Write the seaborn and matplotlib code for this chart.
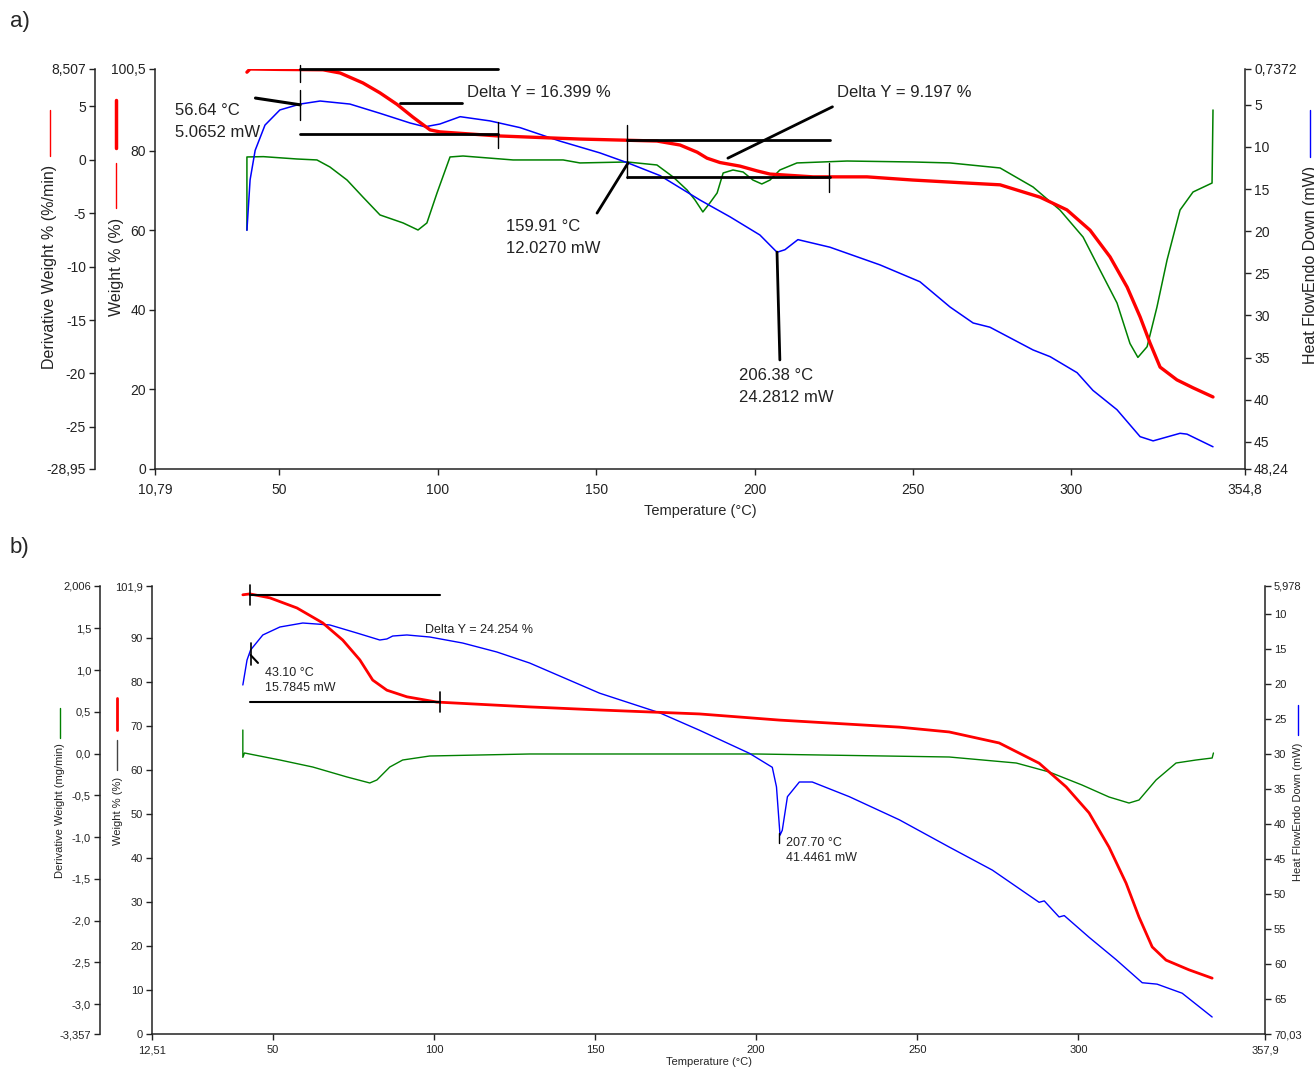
import matplotlib
matplotlib.use("Agg")
import matplotlib.pyplot as plt
import seaborn as sns
from matplotlib.lines import Line2D

sns.set_style("ticks")
plt.rcParams['font.family'] = ['Liberation Sans', 'DejaVu Sans']

FIG_W, FIG_H = 1314, 1068

# ---------------- panel a) data ----------------
a_weight_t = [39.8, 40.8, 50.0, 63.8, 69.2, 76.4, 81.8, 87.2, 92.2, 97.6, 100.7, 106.1, 118.7,
              144.9, 159.8, 169.2, 176.5, 181.9, 185.0, 189.1, 195.4, 200.8, 204.9, 218.5,
              235.5, 250.0, 265.8, 277.5, 290.1, 298.6, 305.9, 312.2, 317.6, 321.7, 324.8,
              328.0, 333.3, 338.4, 344.7]
a_weight = [99.7, 100.5, 100.4, 100.3, 99.5, 97.0, 94.5, 91.6, 88.4, 85.2, 84.7, 84.4, 83.7,
            82.9, 82.6, 82.4, 81.4, 79.6, 78.1, 77.0, 76.1, 74.9, 74.1, 73.4,
            73.4, 72.6, 71.9, 71.4, 68.3, 65.1, 60.0, 53.3, 45.7, 38.2, 31.7,
            25.6, 22.4, 20.4, 18.1]

a_deriv_t = [39.8, 39.8, 45.0, 55.6, 61.9, 66.0, 71.4, 76.4, 81.8, 89.1, 93.8, 96.6, 99.8,
             103.9, 108.0, 123.8, 139.6, 144.9, 159.8, 169.2, 174.3, 178.7, 181.2, 183.7,
             185.9, 188.2, 190.1, 193.2, 196.4, 199.5, 202.3, 204.9, 208.0, 213.4, 229.2,
             250.0, 261.7, 277.5, 287.9, 296.4, 303.7, 309.0, 314.4, 318.5, 321.0, 323.9,
             327.0, 330.2, 334.3, 338.4, 344.4, 344.7]
a_deriv = [-6.57, 0.27, 0.30, 0.08, -0.01, -0.67, -1.89, -3.48, -5.16, -5.91, -6.57, -5.91, -3.10,
           0.27, 0.36, -0.01, -0.01, -0.29, -0.20, -0.48, -1.60, -2.82, -3.75, -4.88,
           -4.04, -3.10, -1.23, -0.95, -1.14, -1.89, -2.26, -1.89, -0.95, -0.29, -0.11,
           -0.20, -0.29, -0.76, -2.54, -4.70, -7.23, -10.3, -13.4, -17.2, -18.5, -17.5,
           -13.8, -9.38, -4.70, -3.01, -2.17, 4.67]

a_heat_t = [39.8, 40.8, 42.4, 45.5, 50.2, 56.6, 62.9, 72.3, 81.8, 91.3, 96.0, 100.7, 107.1,
            116.5, 126.0, 138.6, 151.2, 160.1, 170.2, 182.8, 192.3, 201.7, 207.1, 209.6,
            213.7, 223.8, 239.6, 252.2, 261.7, 269.0, 274.3, 287.9, 293.3, 301.8, 306.8,
            314.4, 321.7, 325.8, 334.3, 336.5, 344.7]
a_heat = [19.9, 13.9, 10.4, 7.4, 5.6, 4.9, 4.54, 4.9, 6.0, 7.15, 7.6, 7.27, 6.4,
          6.9, 7.7, 9.3, 10.7, 11.9, 13.4, 16.3, 18.3, 20.45, 22.5, 22.2,
          21.0, 21.9, 24.0, 26.0, 29.0, 30.9, 31.4, 34.1, 34.9, 36.8, 38.9,
          41.2, 44.4, 44.9, 44.0, 44.1, 45.6]

a_x_ticks = [10.79, 50, 100, 150, 200, 250, 300, 354.8]
a_x_labels = ['10,79', '50', '100', '150', '200', '250', '300', '354,8']
a_w_ticks = [0, 20, 40, 60, 80, 100.5]
a_w_labels = ['0', '20', '40', '60', '80', '100,5']
a_d_ticks = [-28.95, -25, -20, -15, -10, -5, 0, 5, 8.507]
a_d_labels = ['-28,95', '-25', '-20', '-15', '-10', '-5', '0', '5', '8,507']
a_h_ticks = [0.7372, 5, 10, 15, 20, 25, 30, 35, 40, 45, 48.24]
a_h_labels = ['0,7372', '5', '10', '15', '20', '25', '30', '35', '40', '45', '48,24']

# annotation segments (temperature, weight %), linewidth
a_segments = [
    ((42.5, 93.2), (56.6, 91.5), 2.2),
    ((56.6, 100.5), (118.9, 100.5), 2.0),
    ((88.2, 92.0), (107.8, 92.0), 2.0),
    ((56.6, 84.2), (118.9, 84.2), 2.0),
    ((56.6, 101.5), (56.6, 97.2), 1.0),
    ((56.6, 95.2), (56.6, 87.7), 1.0),
    ((118.9, 87.2), (118.9, 80.7), 1.0),
    ((159.9, 82.7), (223.9, 82.7), 2.0),
    ((159.9, 73.4), (223.9, 73.4), 2.0),
    ((159.9, 86.4), (159.9, 73.1), 1.0),
    ((223.6, 76.9), (223.6, 69.6), 1.0),
    ((191.6, 78.1), (224.6, 91.0), 2.0),
    ((150.3, 64.3), (160.1, 76.9), 2.0),
    ((207.1, 54.5), (208.0, 27.4), 2.0),
]
a_texts = [
    (17.1, 87.3, '56.64 °C\n5.0652 mW'),
    (109.4, 94.7, 'Delta Y = 16.399 %'),
    (225.9, 94.7, 'Delta Y = 9.197 %'),
    (121.7, 58.2, '159.91 °C\n12.0270 mW'),
    (195.0, 20.7, '206.38 °C\n24.2812 mW'),
]

# ---------------- panel b) data ----------------
b_weight_t = [40.7, 42.9, 49.1, 57.5, 65.5, 71.7, 77.0, 81.0, 85.4, 91.6, 100.9, 129.7, 151.4,
              182.4, 207.2, 244.4, 259.9, 275.4, 287.8, 296.2, 303.3, 309.5, 314.8, 318.8,
              322.9, 327.2, 334.3, 341.5]
b_weight = [99.9, 100.1, 99.2, 96.9, 93.5, 89.6, 85.1, 80.5, 78.2, 76.7, 75.5, 74.4, 73.7,
            72.8, 71.4, 69.8, 68.7, 66.2, 61.6, 56.2, 50.3, 42.5, 34.3, 26.6,
            19.8, 16.8, 14.6, 12.7]

b_deriv_t = [40.7, 40.7, 41.2, 52.2, 62.4, 73.0, 80.1, 82.3, 86.3, 90.3, 98.7, 129.7, 200.0,
             259.9, 280.7, 290.9, 301.1, 309.5, 315.7, 318.8, 324.1, 330.3, 336.5, 341.5, 341.9]
b_deriv = [0.282, -0.045, 0.007, -0.077, -0.161, -0.280, -0.352, -0.316, -0.161, -0.077, -0.029,
           -0.005, -0.005, -0.041, -0.113, -0.220, -0.376, -0.520, -0.592, -0.556, -0.316,
           -0.113, -0.077, -0.053, 0.007]

b_heat_t = [40.7, 42.0, 43.1, 46.9, 52.2, 59.3, 67.7, 76.1, 83.2, 85.4, 87.2, 91.6, 98.7,
            108.9, 119.5, 129.7, 151.4, 170.0, 182.4, 197.9, 205.0, 206.3, 207.4, 208.1,
            209.7, 213.4, 217.4, 228.9, 244.4, 259.9, 273.3, 287.8, 289.4, 294.0, 295.6,
            303.3, 311.7, 319.8, 324.4, 332.2, 341.5]
b_heat = [20.13, 16.56, 15.13, 12.98, 11.84, 11.27, 11.55, 12.70, 13.70, 13.55, 13.13, 12.98, 13.27,
          14.13, 15.41, 16.99, 21.3, 24.1, 26.6, 29.9, 31.9, 34.7, 41.6, 40.9,
          36.1, 34.0, 34.0, 36.1, 39.4, 43.3, 46.6, 51.2, 51.0, 53.3, 53.1,
          56.2, 59.4, 62.7, 62.9, 64.2, 67.6]

b_x_ticks = [12.51, 50, 100, 150, 200, 250, 300, 357.9]
b_x_labels = ['12,51', '50', '100', '150', '200', '250', '300', '357,9']
b_w_ticks = [0, 10, 20, 30, 40, 50, 60, 70, 80, 90, 101.9]
b_w_labels = ['0', '10', '20', '30', '40', '50', '60', '70', '80', '90', '101,9']
b_d_ticks = [-3.357, -3.0, -2.5, -2.0, -1.5, -1.0, -0.5, 0.0, 0.5, 1.0, 1.5, 2.006]
b_d_labels = ['-3,357', '-3,0', '-2,5', '-2,0', '-1,5', '-1,0', '-0,5', '0,0', '0,5', '1,0', '1,5', '2,006']
b_h_ticks = [5.978, 10, 15, 20, 25, 30, 35, 40, 45, 50, 55, 60, 65, 70.03]
b_h_labels = ['5,978', '10', '15', '20', '25', '30', '35', '40', '45', '50', '55', '60', '65', '70,03']

b_segments = [
    ((42.9, 99.9), (101.8, 99.9), 1.5),
    ((42.9, 102.1), (42.9, 97.6), 1.2),
    ((42.9, 75.5), (101.8, 75.5), 1.5),
    ((101.8, 77.8), (101.8, 73.2), 1.2),
    ((43.1, 88.9), (43.1, 83.9), 1.2),
    ((43.1, 86.2), (45.4, 84.4), 1.5),
    ((207.2, 45.7), (207.2, 43.4), 1.0),
]
b_texts = [
    (97.1, 91.9, 'Delta Y = 24.254 %'),
    (47.5, 80.4, '43.10 °C\n15.7845 mW'),
    (209.1, 41.75, '207.70 °C\n41.4461 mW'),
]

RED, BLUE, GREEN = '#ff0000', '#0000ff', '#008000'

fig = plt.figure(figsize=(FIG_W / 100, FIG_H / 100), dpi=100)


def fig_line(x, y0, y1, color, lw):
    fig.add_artist(Line2D([x / FIG_W, x / FIG_W], [1 - y0 / FIG_H, 1 - y1 / FIG_H],
                          transform=fig.transFigure, color=color, lw=lw))


def panel(box, xlim, x_ticks, x_labels, wlim, w_ticks, w_labels, dlim, d_ticks, d_labels,
          hlim, h_ticks, h_labels, d_offset_px, fs, xpad):
    left, top, right, bottom = box
    ax_w = fig.add_axes([left / FIG_W, 1 - bottom / FIG_H, (right - left) / FIG_W, (bottom - top) / FIG_H])
    ax_d = ax_w.twinx()
    ax_h = ax_w.twinx()
    ax_w.set_zorder(3)
    ax_w.patch.set_visible(False)

    ax_w.set_xlim(*xlim)
    ax_w.set_ylim(*wlim)
    ax_d.set_ylim(*dlim)
    ax_h.set_ylim(*hlim)

    for name in ['top', 'right']:
        ax_w.spines[name].set_visible(False)
    for name in ['top', 'right', 'bottom']:
        ax_d.spines[name].set_visible(False)
    for name in ['top', 'left', 'bottom']:
        ax_h.spines[name].set_visible(False)

    ax_d.yaxis.set_ticks_position('left')
    ax_d.spines['left'].set_visible(True)
    ax_d.spines['left'].set_position(('outward', d_offset_px * 0.72))

    for a in (ax_w, ax_d, ax_h):
        for s in a.spines.values():
            s.set_linewidth(1.1)
            s.set_color('#222222')
        a.tick_params(direction='out', length=4, width=1, colors='#222222', labelsize=fs, pad=2.5)

    ax_w.set_xticks(x_ticks)
    ax_w.set_xticklabels(x_labels)
    ax_w.tick_params(axis='x', pad=xpad)
    ax_w.set_yticks(w_ticks)
    ax_w.set_yticklabels(w_labels)
    ax_d.set_yticks(d_ticks)
    ax_d.set_yticklabels(d_labels)
    ax_h.set_yticks(h_ticks)
    ax_h.set_yticklabels(h_labels)
    return ax_w, ax_d, ax_h


def draw_series(axes, wt, w, dt, d, ht, h, lw_red, lw_thin):
    ax_w, ax_d, ax_h = axes
    sns.lineplot(x=dt, y=d, ax=ax_d, color=GREEN, linewidth=lw_thin, sort=False, estimator=None)
    sns.lineplot(x=ht, y=h, ax=ax_h, color=BLUE, linewidth=lw_thin, sort=False, estimator=None)
    sns.lineplot(x=wt, y=w, ax=ax_w, color=RED, linewidth=lw_red, sort=False, estimator=None)
    for a in axes:
        a.set_ylabel('')


# ---------------- panel a ----------------
axes_a = panel((155, 69, 1245, 469), (10.79, 354.8), a_x_ticks, a_x_labels,
               (0, 100.5), a_w_ticks, a_w_labels, (-28.95, 8.507), a_d_ticks, a_d_labels,
               (48.24, 0.7372), a_h_ticks, a_h_labels, 60, 10, 6)
draw_series(axes_a, a_weight_t, a_weight, a_deriv_t, a_deriv, a_heat_t, a_heat, 2.4, 1.1)
ax_w = axes_a[0]
ax_w.set_xlabel('Temperature (°C)', fontsize=10.5, labelpad=5)
for (p0, p1, lw) in a_segments:
    ax_w.plot([p0[0], p1[0]], [p0[1], p1[1]], color='black', lw=lw, clip_on=False)
for (tx, ty, s) in a_texts:
    ax_w.text(tx, ty, s, fontsize=12, ha='left', va='center', color='#222222', linespacing=1.6)

fig.text(50 / FIG_W, 1 - 267 / FIG_H, 'Derivative Weight % (%/min)', rotation=90,
         ha='center', va='center', fontsize=11.5, color='#222222')
fig_line(50, 110, 156, RED, 1.0)
fig.text(116 / FIG_W, 1 - 267 / FIG_H, 'Weight % (%)', rotation=90,
         ha='center', va='center', fontsize=11.5, color='#222222')
fig_line(116, 100, 148, RED, 2.5)
fig_line(116, 163, 208, RED, 1.0)
# the reference cuts this label at the right edge of the image
fig.text(1303 / FIG_W, 1 - 265 / FIG_H, 'Heat FlowEndo Down (mW)', rotation=90,
         ha='left', va='center', fontsize=11.5, color='#222222')
fig_line(1310, 110, 157, BLUE, 1.0)

# ---------------- panel b ----------------
axes_b = panel((152, 586, 1265, 1034), (12.51, 357.9), b_x_ticks, b_x_labels,
               (0, 101.9), b_w_ticks, b_w_labels, (-3.357, 2.006), b_d_ticks, b_d_labels,
               (70.03, 5.978), b_h_ticks, b_h_labels, 52, 8, 4)
draw_series(axes_b, b_weight_t, b_weight, b_deriv_t, b_deriv, b_heat_t, b_heat, 2.0, 1.0)
bx_w = axes_b[0]
bx_w.set_xlabel('Temperature (°C)', fontsize=8, labelpad=1.5)
for (p0, p1, lw) in b_segments:
    bx_w.plot([p0[0], p1[0]], [p0[1], p1[1]], color='black', lw=lw, clip_on=False)
for (tx, ty, s) in b_texts:
    bx_w.text(tx, ty, s, fontsize=9, ha='left', va='center', color='#222222', linespacing=1.3)

fig.text(60 / FIG_W, 1 - 811 / FIG_H, 'Derivative Weight (mg/min)', rotation=90,
         ha='center', va='center', fontsize=8, color='#222222')
fig_line(60, 708, 738, GREEN, 1.0)
fig.text(118 / FIG_W, 1 - 811 / FIG_H, 'Weight % (%)', rotation=90,
         ha='center', va='center', fontsize=8, color='#222222')
fig_line(117, 698, 730, RED, 2.0)
fig_line(117, 740, 770, '#444444', 1.0)
fig.text(1298 / FIG_W, 1 - 812 / FIG_H, 'Heat FlowEndo Down (mW)', rotation=90,
         ha='center', va='center', fontsize=8, color='#222222')
fig_line(1298, 705, 735, BLUE, 1.0)

fig.text(10 / FIG_W, 1 - 21 / FIG_H, 'a)', fontsize=16, ha='left', va='center')
fig.text(10 / FIG_W, 1 - 548 / FIG_H, 'b)', fontsize=16, ha='left', va='center')

fig.savefig('out.png', dpi=100, facecolor='white')
